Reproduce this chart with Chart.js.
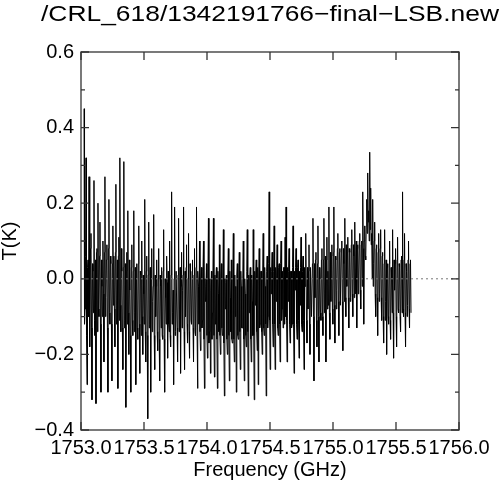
<!DOCTYPE html>
<html>
<head>
    <title>CRL 618 spectrum</title>
    <script src="https://cdn.jsdelivr.net/npm/chart.js"></script>
    <style>
        body { margin: 0; background: #fff; }
        #wrap { width: 500px; height: 485px; }
    </style>
</head>
<body>
    <div id="wrap"><canvas id="spec"></canvas></div>

    <script>
        var titleText = '/CRL_618/1342191766\u2212final\u2212LSB.new';

        // channel grid of the spectrum (GHz)
        var freqStart = 1753.024;
        var chanWidth = 0.00395;

        // antenna temperature per channel (K)
        var tempK = [
            0.45,-0.12,-0.08,0.06,0.32,-0.15,-0.28,0.03,0.05,-0.1,0.27,-0.06,-0.18,0.08,0.12,-0.13,-0.32,0.04,0.02,-0.09,
            0.26,-0.11,-0.15,0.05,-0.33,0.07,0.08,-0.14,0.2,-0.08,-0.1,0.06,0.15,-0.12,-0.3,0.05,-0.02,-0.1,0.1,-0.04,
            -0.22,0.07,0.27,-0.1,-0.05,0.05,0.09,-0.13,-0.3,0.08,0.21,-0.09,-0.12,0.06,0.04,-0.12,-0.27,0.04,0.14,-0.07,
            0.06,-0.08,-0.18,0.07,0.25,-0.12,-0.07,0.05,-0.29,0.06,0.11,-0.11,0.32,-0.07,-0.14,0.08,0.02,-0.13,-0.24,0.03,
            0.31,-0.13,-0.11,0.04,-0.34,0.02,0.07,-0.12,0.18,-0.09,-0.2,0.05,-0.03,-0.15,-0.3,0.03,0.09,-0.11,-0.15,0.02,
            0.18,-0.14,-0.09,0.03,-0.28,0.0,0.04,-0.13,-0.16,0.04,0.14,-0.12,-0.25,0.02,0.01,-0.15,0.1,-0.1,-0.2,0.01,
            -0.04,-0.12,0.21,-0.14,-0.22,0.02,0.06,-0.15,-0.37,0.01,0.15,-0.13,-0.12,0.03,-0.3,0.0,0.08,-0.14,-0.06,-0.02,
            0.17,-0.15,-0.24,0.01,-0.1,-0.02,0.05,-0.14,-0.19,0.0,0.08,-0.16,-0.27,0.01,-0.02,-0.13,0.03,-0.15,-0.16,0.02,
            0.13,-0.16,-0.3,0.0,-0.05,-0.12,0.06,-0.01,-0.21,0.02,-0.12,-0.14,0.1,-0.15,-0.18,0.01,0.23,-0.12,-0.09,-0.03,
            -0.28,0.0,0.19,-0.15,-0.14,0.02,0.02,-0.13,-0.22,0.01,0.16,-0.14,-0.08,0.03,-0.25,-0.02,0.07,-0.13,-0.03,0.01,
            0.19,-0.14,-0.24,0.02,-0.1,0.03,0.09,-0.12,-0.17,0.0,0.12,-0.14,-0.21,0.04,0.01,-0.11,-0.12,0.02,0.05,-0.13,
            -0.22,0.01,0.08,-0.14,-0.15,0.03,0.19,-0.13,-0.29,0.02,-0.02,-0.12,0.1,-0.14,-0.19,0.0,0.03,-0.13,-0.11,0.02,
            0.1,-0.16,-0.29,0.0,-0.06,-0.02,0.04,-0.15,-0.21,0.01,0.16,-0.17,-0.14,0.0,-0.25,-0.03,0.02,-0.16,-0.09,0.01,
            0.16,-0.15,-0.26,0.01,-0.12,0.0,0.03,-0.16,-0.29,0.02,-0.04,-0.14,0.09,-0.15,-0.2,0.01,0.04,-0.13,-0.15,0.0,
            0.13,-0.17,-0.31,0.0,-0.08,-0.01,0.01,-0.16,-0.2,0.01,0.08,-0.15,-0.27,0.02,-0.05,-0.14,0.05,-0.16,-0.17,0.0,
            0.12,-0.16,-0.22,0.01,-0.1,-0.02,-0.3,0.01,0.04,-0.15,-0.16,0.0,0.07,-0.14,-0.24,0.02,-0.02,-0.13,-0.13,0.0,
            0.1,-0.16,-0.27,0.0,-0.04,-0.15,-0.18,0.02,0.13,-0.14,-0.31,0.01,-0.09,0.0,0.03,-0.16,-0.22,0.01,-0.06,-0.15,
            0.13,-0.15,-0.32,0.02,-0.07,0.01,0.05,-0.14,-0.19,0.03,-0.28,0.0,0.08,-0.13,-0.12,0.02,0.02,-0.14,-0.2,0.01,
            0.12,-0.13,-0.15,0.03,-0.02,-0.12,-0.31,0.02,0.06,-0.13,-0.1,0.04,0.23,-0.11,-0.24,0.03,-0.04,0.02,0.07,-0.12,
            -0.18,0.02,0.14,-0.12,-0.24,0.03,-0.06,0.01,0.09,-0.13,-0.15,0.03,0.04,-0.12,-0.22,0.04,0.1,-0.11,-0.08,0.02,
            -0.13,0.03,0.03,-0.12,0.11,-0.1,0.19,-0.11,-0.22,0.03,-0.06,0.02,0.08,-0.12,-0.17,0.02,0.02,-0.13,-0.12,0.03,
            0.14,-0.12,-0.25,0.02,-0.03,0.03,0.08,-0.12,-0.16,0.03,0.05,-0.11,-0.21,0.02,-0.07,0.03,0.11,-0.12,-0.14,0.02,
            0.06,-0.11,-0.24,0.03,-0.02,0.04,0.12,-0.11,-0.17,0.03,-0.08,0.02,0.09,-0.12,-0.2,0.03,0.03,-0.1,-0.1,0.04,
            0.16,-0.1,-0.27,0.04,-0.05,0.05,0.07,-0.11,-0.18,0.04,0.14,-0.1,-0.22,0.03,0.0,-0.09,-0.11,0.05,0.08,-0.1,
            -0.15,0.05,0.16,-0.09,-0.04,0.06,-0.22,0.05,0.11,-0.08,0.02,-0.07,0.19,-0.09,-0.16,0.07,-0.06,0.06,0.09,-0.08,
            -0.12,0.07,0.19,-0.07,-0.17,0.06,0.05,-0.08,-0.03,0.08,0.12,-0.06,-0.15,0.07,0.08,-0.07,-0.07,0.08,0.1,-0.06,
            -0.19,0.08,0.04,-0.06,0.16,-0.05,-0.1,0.09,-0.02,0.07,0.11,-0.05,-0.13,0.08,0.07,-0.06,-0.05,0.09,0.13,-0.04,
            -0.1,0.09,0.06,-0.05,0.15,-0.04,-0.04,0.1,-0.13,0.08,0.09,-0.04,0.01,0.1,0.12,-0.03,-0.08,0.09,0.1,-0.02,
            0.23,0.08,-0.12,0.1,0.14,0.06,0.05,0.14,0.21,0.12,0.28,0.15,0.18,0.1,0.335,0.13,0.24,0.09,0.12,0.0,
            0.21,-0.02,0.04,0.1,0.15,-0.04,-0.1,0.08,0.09,-0.05,-0.15,0.07,0.12,-0.06,-0.04,0.08,0.13,-0.05,-0.11,0.06,
            0.07,-0.1,-0.17,0.04,0.13,-0.11,-0.06,0.05,-0.2,0.03,0.04,-0.1,-0.12,0.04,0.1,-0.11,-0.16,0.03,0.0,-0.09,
            0.13,-0.09,-0.21,0.05,-0.03,0.04,0.08,-0.1,-0.18,0.05,0.11,-0.08,-0.09,0.04,0.03,-0.1,-0.14,0.05,0.06,-0.09,
            0.23,-0.08,-0.1,0.05,0.12,-0.09,-0.18,0.04,0.02,-0.1,-0.07,0.05,0.1,-0.08,-0.13,0.04,0.05,-0.09
        ];

        var xTicks = [1753.0, 1753.5, 1754.0, 1754.5, 1755.0, 1755.5, 1756.0];
        var yTicks = [-0.4, -0.2, 0.0, 0.2, 0.4, 0.6];
        var yMinor = [-0.3, -0.1, 0.1, 0.3, 0.5];
        var baseline = [{x: 1753.0, y: 0}, {x: 1756.0, y: 0}];

        var spectrum = tempK.map(function(t, i) {
            return {x: freqStart + i * chanWidth, y: t};
        });

        // box, inward ticks and the title, IDL style
        var frame = {
            id: 'frame',
            afterDraw: function(chart) {
                var ctx = chart.ctx, a = chart.chartArea;
                var xs = chart.scales.x, ys = chart.scales.y;
                ctx.save();
                ctx.strokeStyle = '#333';
                ctx.lineWidth = 1.3;
                ctx.strokeRect(a.left, a.top, a.right - a.left, a.bottom - a.top);
                ctx.beginPath();
                xTicks.forEach(function(v) {
                    var px = xs.getPixelForValue(v);
                    ctx.moveTo(px, a.bottom); ctx.lineTo(px, a.bottom - 8);
                    ctx.moveTo(px, a.top); ctx.lineTo(px, a.top + 8);
                });
                yTicks.forEach(function(v) {
                    var py = ys.getPixelForValue(v);
                    ctx.moveTo(a.left, py); ctx.lineTo(a.left + 8, py);
                    ctx.moveTo(a.right, py); ctx.lineTo(a.right - 8, py);
                });
                yMinor.forEach(function(v) {
                    var py = ys.getPixelForValue(v);
                    ctx.moveTo(a.left, py); ctx.lineTo(a.left + 4, py);
                    ctx.moveTo(a.right, py); ctx.lineTo(a.right - 4, py);
                });
                ctx.stroke();

                ctx.fillStyle = '#000';
                ctx.font = '22px "Liberation Sans", Arial, sans-serif';
                ctx.textAlign = 'center';
                ctx.textBaseline = 'alphabetic';
                ctx.translate((a.left + a.right) / 2, 21);
                ctx.scale(1.2, 1);
                ctx.fillText(titleText, 0, 0);
                ctx.restore();
            }
        };

        Chart.defaults.font.family = '"Liberation Sans", Arial, sans-serif';
        Chart.defaults.font.size = 20;
        Chart.defaults.color = '#000';

        new Chart(document.getElementById('spec'), {
            type: 'line',
            data: {
                datasets: [{
                    data: baseline,
                    borderColor: '#777',
                    borderWidth: 1,
                    borderDash: [2, 3],
                    pointRadius: 0
                }, {
                    data: spectrum,
                    borderColor: '#000',
                    borderWidth: 1,
                    pointRadius: 0
                }]
            },
            options: {
                responsive: true,
                maintainAspectRatio: false,
                animation: false,
                layout: { padding: { top: 52, right: 41, left: 0, bottom: 0 } },
                plugins: {
                    legend: { display: false },
                    tooltip: { enabled: false }
                },
                scales: {
                    x: {
                        type: 'linear',
                        min: 1753.0,
                        max: 1756.0,
                        afterFit: function(s) { s.height = 55; },
                        afterBuildTicks: function(s) {
                            s.ticks = xTicks.map(function(v) { return {value: v}; });
                        },
                        grid: { display: false, drawTicks: false },
                        border: { display: false },
                        ticks: {
                            autoSkip: false,
                            maxRotation: 0,
                            padding: 6,
                            callback: function(v) { return v.toFixed(1); }
                        },
                        title: {
                            display: true,
                            text: 'Frequency (GHz)',
                            padding: { top: 0, bottom: 3 }
                        }
                    },
                    y: {
                        min: -0.4,
                        max: 0.6,
                        afterFit: function(s) { s.width = 81; },
                        afterBuildTicks: function(s) {
                            s.ticks = yTicks.map(function(v) { return {value: v}; });
                        },
                        grid: { display: false, drawTicks: false },
                        border: { display: false },
                        ticks: {
                            padding: 7,
                            callback: function(v) {
                                return (v < -1e-9 ? '\u2212' : '') + Math.abs(v).toFixed(1);
                            }
                        },
                        title: {
                            display: true,
                            text: 'T(K)',
                            padding: { top: -2, bottom: 0 }
                        }
                    }
                }
            },
            plugins: [frame]
        });
    </script>
</body>
</html>
